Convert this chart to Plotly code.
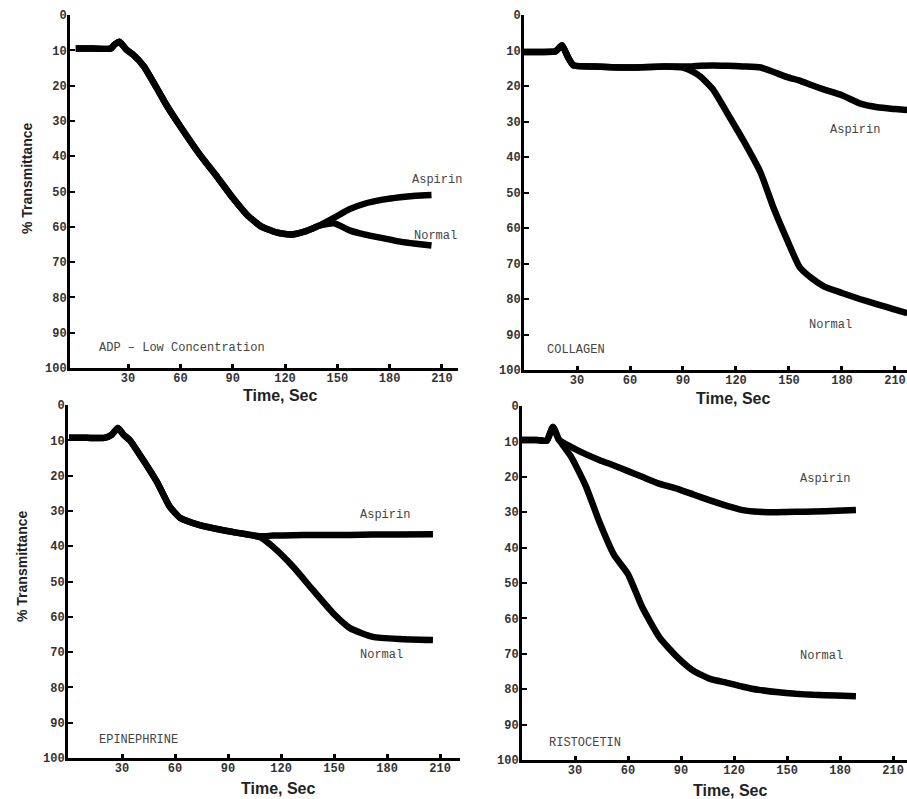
import plotly.graph_objects as go

# ---------------- DATA ----------------
# Panel A: ADP - low concentration
t_adp = [0, 10, 20, 22, 25, 29, 33, 39, 46, 52, 60, 71, 81, 90, 98, 106, 115, 123, 132, 140, 148, 157, 166, 176, 186, 195, 204]
adp_normal = [9.5, 9.5, 9.5, 8.5, 7.6, 9.8, 11.3, 14.5, 20.3, 25.5, 31.6, 39.5, 45.8, 51.8, 56.5, 59.8, 61.6, 62.2, 61.2, 59.6, 59, 61, 62.2, 63.2, 64.2, 64.8, 65.3]
adp_aspirin = [9.5, 9.5, 9.5, 8.5, 7.6, 9.8, 11.3, 14.5, 20.3, 25.5, 31.6, 39.5, 45.8, 51.8, 56.5, 59.8, 61.6, 62.2, 61.2, 59.6, 57.5, 55, 53.4, 52.3, 51.6, 51.2, 51]

# Panel B: Collagen
t_col = [0, 10, 18, 21.5, 25, 28, 40, 60, 80, 90, 95, 100, 107, 115, 124, 134, 141, 149, 156, 163, 170, 180, 190, 200, 210, 217]
col_normal = [10.4, 10.4, 10.2, 8.5, 12, 14.2, 14.5, 14.8, 14.5, 14.8, 15.8, 17.4, 21, 27.6, 35.2, 44.5, 54, 63.4, 71, 74.2, 76.5, 78.3, 80, 81.5, 83, 84]
col_aspirin = [10.4, 10.4, 10.2, 8.5, 12, 14.2, 14.5, 14.8, 14.5, 14.5, 14.5, 14.3, 14.2, 14.3, 14.5, 14.8, 16, 17.5, 18.5, 19.8, 21, 22.6, 24.9, 26, 26.5, 26.8]

# Panel C: Epinephrine
t_epi = [0, 10, 20, 24, 27.7, 31, 34.5, 42, 50, 57, 63, 74, 93, 108, 115.5, 127, 138, 149.5, 159, 172, 187, 206]
epi_normal = [9.3, 9.3, 9.3, 8.5, 6.5, 8.5, 10, 15.6, 22, 28.8, 32, 34, 36, 37.4, 40.2, 45.9, 52.4, 59, 63.2, 65.7, 66.3, 66.6]
epi_aspirin = [9.3, 9.3, 9.3, 8.5, 6.5, 8.5, 10, 15.6, 22, 28.8, 32, 34, 36, 37.2, 37, 36.9, 36.8, 36.8, 36.8, 36.7, 36.7, 36.6]

# Panel D: Ristocetin
t_ris = [0, 8, 14, 17.5, 21, 28, 36, 44, 52, 60, 68, 78, 88, 97, 106, 116, 125, 134, 144, 155, 165, 178, 189]
ris_normal = [9.6, 9.6, 9.8, 5.9, 9.6, 14.5, 22.5, 33, 42, 47.5, 56.8, 65.5, 71, 74.8, 77, 78.2, 79.3, 80.2, 80.8, 81.3, 81.6, 81.8, 82]
ris_aspirin = [9.6, 9.6, 9.8, 5.9, 9.6, 11.6, 13.6, 15.3, 16.8, 18.4, 20, 22, 23.4, 25, 26.6, 28.2, 29.4, 29.9, 30, 29.9, 29.8, 29.6, 29.4]

y_ticks = [0, 10, 20, 30, 40, 50, 60, 70, 80, 90, 100]
x_ticks = [30, 60, 90, 120, 150, 180, 210]
panel_names = ["ADP – Low Concentration", "COLLAGEN", "EPINEPHRINE", "RISTOCETIN"]
series_names = ["Aspirin", "Normal"]

# ---------------- FIGURE ----------------
W, H = 907, 799
fig = go.Figure()

panels = [
    (t_adp, adp_aspirin, adp_normal, "x", "y"),
    (t_col, col_aspirin, col_normal, "x2", "y2"),
    (t_epi, epi_aspirin, epi_normal, "x3", "y3"),
    (t_ris, ris_aspirin, ris_normal, "x4", "y4"),
]
for t, asp, nor, xa, ya in panels:
    for name, vals in ((series_names[0], asp), (series_names[1], nor)):
        fig.add_trace(go.Scatter(
            x=t, y=vals, xaxis=xa, yaxis=ya, mode="lines", name=name,
            line=dict(color="black", width=6.5, shape="spline", smoothing=0.5),
            showlegend=False, hoverinfo="skip"))

# pixel-based geometry: (x_left_px, x_right_px, y_top_px, y_bottom_px, xrange)
geo = [
    (70, 458, 15, 368, [-3.3, 219.2]),
    (524, 907, 15, 370, [0, 216.8]),
    (68, 460, 405, 758, [-0.56, 221.3]),
    (522, 907, 406, 760, [0, 217.9]),
]
tickfont = dict(family="Liberation Mono, DejaVu Sans Mono, monospace", size=12, color="#333", weight="bold")
axis_common = dict(showgrid=False, zeroline=False, showline=True, linecolor="black",
                   linewidth=3, ticks="inside", tickcolor="black", tickfont=tickfont,
                   automargin=False)
for i, (xl, xr, yt, yb, xr_range) in enumerate(geo):
    sfx = "" if i == 0 else str(i + 1)
    fig.layout["xaxis" + sfx] = dict(
        domain=[xl / W, xr / W], range=xr_range, anchor="y" + sfx,
        tickvals=x_ticks, ticklen=4, tickwidth=3, ticklabelstandoff=-3, **axis_common)
    fig.layout["yaxis" + sfx] = dict(
        domain=[1 - yb / H, 1 - yt / H], range=[100, 0], anchor="x" + sfx,
        tickvals=y_ticks, ticklen=5, tickwidth=2, ticklabelstandoff=-2, **axis_common)

lab_font = dict(family="Liberation Mono, DejaVu Sans Mono, monospace", size=12, color="#444")
ann = []
# (text, axis suffix, x, y)
label_pos = [
    (panel_names[0], "", 12.2, 94.3),
    (series_names[0], "", 191.5, 46.7),
    (series_names[1], "", 193, 62.6),
    (panel_names[1], "2", 11.9, 94.4),
    (series_names[0], "2", 172, 32.4),
    (series_names[1], "2", 160, 87.3),
    (panel_names[2], "3", 15.9, 94.9),
    (series_names[0], "3", 163.6, 31.2),
    (series_names[1], "3", 163.6, 70.8),
    (panel_names[3], "4", 14.1, 95.2),
    (series_names[0], "4", 156, 20.6),
    (series_names[1], "4", 156, 70.6),
]
for text, s, x, y in label_pos:
    ann.append(dict(text=text, x=x, y=y, xref="x" + s, yref="y" + s, showarrow=False,
                    xanchor="left", yanchor="middle", font=lab_font))

title_font = dict(family="Liberation Sans, Arial, sans-serif", size=16, color="#222", weight="bold")
for cx, cy in [(280, 396), (733, 398), (278, 788), (730, 790)]:
    ann.append(dict(text="Time, Sec", x=cx / W, y=1 - cy / H, xref="paper", yref="paper",
                    showarrow=False, xanchor="center", yanchor="middle", font=title_font))

ytitle_font = dict(family="Liberation Sans Narrow, Liberation Sans, Arial, sans-serif", size=14, color="#222", weight="bold")
for cx, cy in [(27, 179), (22, 567)]:
    ann.append(dict(text="% Transmittance", x=cx / W, y=1 - cy / H, xref="paper", yref="paper",
                    showarrow=False, xanchor="center", yanchor="middle", textangle=-90, font=ytitle_font))

fig.update_layout(
    width=W, height=H, margin=dict(l=0, r=0, t=0, b=0, autoexpand=False),
    paper_bgcolor="white", plot_bgcolor="white", annotations=ann, showlegend=False)

fig.write_html(
    "out.html",
    config={"displayModeBar": False},
    post_script="document.body.style.margin='0';document.body.style.padding='0';document.body.style.overflow='hidden';",
)
